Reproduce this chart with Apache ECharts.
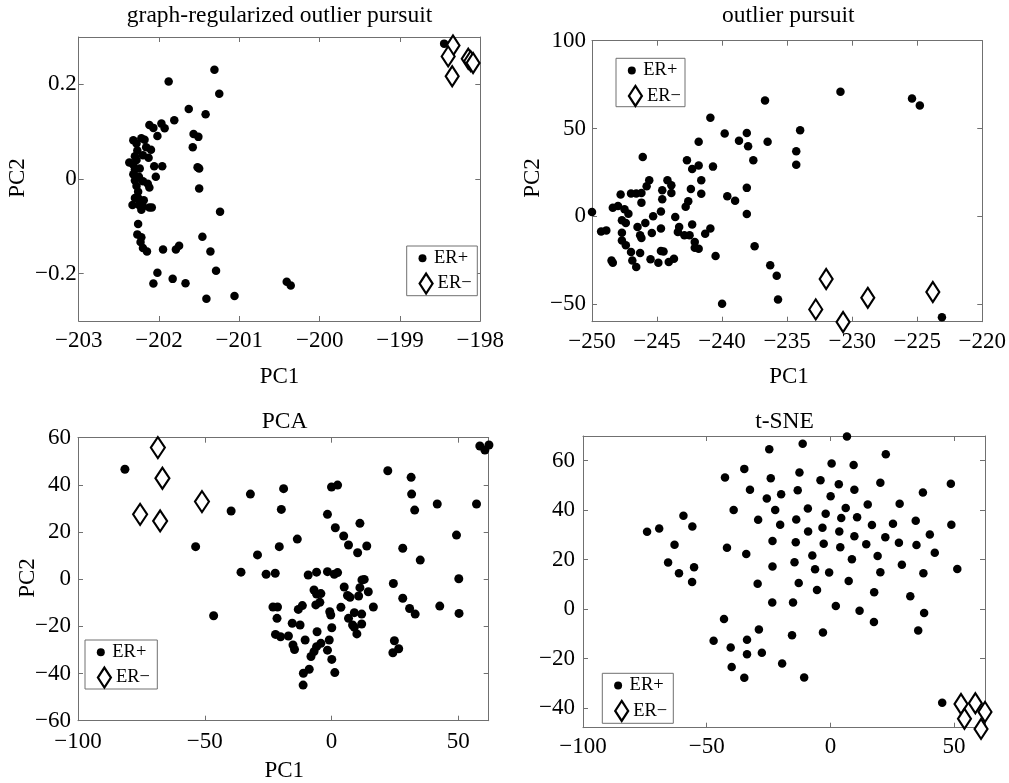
<!DOCTYPE html>
<html>
<head>
<meta charset="utf-8">
<title>ER+ / ER− embeddings</title>
<script src="https://cdn.jsdelivr.net/npm/echarts@6/dist/echarts.min.js"></script>
<style>
  html, body { margin: 0; padding: 0; background: #fff; }
  #chart { width: 1009px; height: 783px; }
</style>
</head>
<body>
<div id="chart"></div>
<script>
// ---------- data: [PC1, PC2] pairs per panel ----------
const titles = ['graph-regularized outlier pursuit', 'outlier pursuit', 'PCA', 't-SNE'];

const gopErPos = [
  [-201.31,0.231],[-201.88,0.206],[-201.25,0.180],[-201.63,0.148],[-201.42,0.137],[-201.81,0.124],
  [-202.12,0.114],[-202.07,0.108],[-201.97,0.117],[-201.93,0.107],[-202.02,0.091],[-201.57,0.095],
  [-201.51,0.089],[-201.58,0.067],[-201.52,0.025],[-201.50,0.022],[-201.50,-0.020],[-201.24,-0.069],
  [-201.46,-0.122],[-201.36,-0.153],[-201.29,-0.194],[-201.41,-0.253],[-201.06,-0.247],[-200.41,-0.217],
  [-200.36,-0.225],[-201.83,-0.211],[-201.67,-0.220],[-202.07,-0.221],[-202.02,-0.198],[-201.95,-0.149],
  [-201.79,-0.149],[-201.75,-0.141],[-202.26,-0.095],[-202.27,-0.117],[-202.22,-0.123],[-202.23,-0.133],
  [-202.20,-0.146],[-202.15,-0.153],[-202.06,0.027],[-201.96,0.027],[-202.04,0.005],[-202.12,-0.018],
  [-202.32,0.082],[-202.28,0.075],[-202.22,0.086],[-202.18,0.083],[-202.16,0.067],[-202.13,0.045],
  [-202.27,0.060],[-202.30,0.048],[-202.37,0.035],[-202.32,0.030],[-202.30,0.020],[-202.32,0.010],
  [-202.30,-0.003],[-202.28,-0.015],[-202.26,-0.027],[-202.20,-0.005],[-202.14,-0.010],[-202.30,-0.040],
  [-202.33,-0.055],[-202.25,-0.055],[-202.20,-0.058],[-202.12,-0.060],[-202.09,-0.060],[-202.22,-0.065],
  [-202.28,0.040],[-202.25,0.005],[-202.20,0.050],[-202.10,0.062],[-202.24,0.022],[-202.26,-0.040],
  [-202.19,-0.045],[-198.45,0.286]
];
const gopErNeg = [
  [-198.34,0.282],[-198.40,0.259],[-198.35,0.217],[-198.15,0.254],[-198.12,0.249],[-198.09,0.245]
];

const opErPos = [
  [-250.0,2.5],[-230.9,70.9],[-225.4,67.1],[-224.8,63.1],[-236.7,65.9],[-240.9,56.1],[-239.8,47.1],
  [-238.7,43.1],[-238.1,47.5],[-238.0,39.9],[-236.5,42.4],[-234.0,49.0],[-234.3,37.1],[-234.3,29.3],
  [-237.6,31.9],[-241.8,42.4],[-242.7,31.9],[-241.8,28.9],[-242.3,27.0],[-240.7,28.3],[-246.1,33.8],
  [-245.6,20.5],[-245.8,17.1],[-244.2,20.5],[-243.9,17.7],[-243.9,13.3],[-244.6,14.8],[-244.6,9.7],
  [-242.4,15.6],[-241.6,20.5],[-241.6,12.9],[-242.6,8.6],[-242.8,5.5],[-239.6,11.4],[-239.0,8.9],
  [-238.1,16.2],[-238.1,1.3],[-237.5,-17.1],[-236.3,-27.9],[-235.8,-33.8],[-235.7,-47.3],[-240.0,-49.8],
  [-223.1,-57.4],[-240.5,-22.6],[-247.8,12.4],[-247.0,13.0],[-246.6,13.0],[-246.2,7.8],[-246.2,13.3],
  [-248.4,4.9],[-248.0,5.9],[-247.5,4.0],[-247.2,1.5],[-247.7,-2.3],[-247.4,-3.8],[-245.9,-3.8],
  [-245.3,0.0],[-244.7,2.7],[-243.6,-0.4],[-249.3,-8.6],[-248.9,-8.0],[-247.7,-9.3],[-247.7,-13.7],
  [-247.4,-16.5],[-246.5,-6.1],[-246.3,-10.8],[-246.2,-12.4],[-246.3,-20.9],[-247.0,-20.3],[-246.9,-25.1],
  [-246.6,-28.9],[-248.5,-25.1],[-248.4,-26.4],[-245.4,-9.5],[-244.7,-7.0],[-245.5,-24.5],[-244.9,-26.4],
  [-244.7,-19.8],[-244.5,-20.0],[-244.1,-26.0],[-243.7,-24.1],[-243.3,-6.1],[-243.4,-8.9],[-242.9,-10.8],
  [-242.5,-10.8],[-242.3,-4.6],[-242.1,-14.6],[-242.1,-17.9],[-241.8,-18.4],[-241.3,-9.9],[-240.9,-7.0]
];
const opErNeg = [
  [-232.0,-35.7],[-232.8,-53.0],[-230.7,-60.2],[-228.8,-46.4],[-223.8,-43.1]
];

const pcaErPos = [
  [-81.5,46.6],[-53.6,13.8],[-46.5,-15.5],[-39.6,28.9],[-35.7,3.0],[-32.0,36.1],[-29.2,10.3],[-25.8,2.1],
  [-22.2,2.5],[-18.9,38.4],[-19.8,29.6],[-20.6,13.8],[-23.1,-11.8],[-21.3,-11.8],[-21.5,-16.6],[-13.5,17.0],
  [-22.1,-23.4],[-20.1,-24.4],[-17.0,-24.1],[-15.5,-18.7],[-15.2,-27.9],[-14.6,-29.8],[-13.1,-12.8],
  [-11.5,-11.2],[-12.4,-19.4],[-10.4,-25.8],[-11.2,-44.9],[-11.1,-39.9],[-8.8,-38.2],[-8.1,-32.8],
  [-9.2,1.8],[-5.9,3.0],[-6.9,-4.6],[-5.9,-6.3],[-4.2,-6.1],[-6.2,-10.9],[-4.6,-9.8],[-5.7,-22.3],
  [-6.9,-30.7],[-5.9,-28.6],[-4.2,-27.2],[-1.6,27.5],[-1.6,3.2],[-0.9,-25.8],[-1.6,-30.1],[0.1,-34.0],
  [1.3,-39.6],[0.1,-20.6],[-0.7,-13.8],[-0.3,-15.2],[0.0,39.1],[2.4,39.9],[1.5,21.8],[1.1,2.1],[2.4,2.8],
  [3.7,-11.9],[4.8,18.3],[5.0,-3.3],[6.3,-6.9],[7.3,-7.7],[6.7,14.5],[6.7,-16.6],[8.3,-19.4],[9.0,-20.4],
  [10.0,-23.2],[10.3,11.2],[11.2,23.7],[12.0,-0.3],[12.9,-0.1],[10.7,-7.1],[11.2,-3.6],[9.0,-14.2],
  [11.9,-14.8],[11.9,-19.0],[13.9,14.1],[14.5,-5.3],[16.5,-11.8],[22.2,46.0],[24.4,-1.8],[24.8,-26.1],
  [24.2,-31.2],[26.5,-29.5],[28.1,13.1],[28.1,-8.1],[30.8,-12.4],[33.0,-14.8],[31.4,43.2],[31.6,36.1],
  [32.8,29.3],[35.0,8.1],[41.7,31.9],[42.7,-11.4],[49.3,18.7],[50.2,0.2],[50.3,-14.5],[57.2,31.9],
  [58.5,56.5],[60.5,54.8],[62.1,56.9]
];
const pcaErNeg = [
  [-68.5,55.8],[-66.7,42.8],[-75.5,27.5],[-67.6,24.7],[-51.1,32.9]
];

const tsneErPos = [
  [-74.1,31.3],[-69.2,32.6],[-63.0,26.0],[-59.4,37.7],[-55.8,33.4],[-65.6,18.8],[-61.2,14.5],[-55.1,16.9],
  [-55.9,10.9],[-42.6,53.2],[-39.1,40.1],[-41.8,24.8],[-34.8,56.7],[-32.5,48.3],[-34.0,22.3],[-24.7,64.6],
  [-24.1,52.9],[-25.7,44.7],[-22.3,40.1],[-29.2,36.1],[-19.9,46.4],[-20.3,34.1],[-23.4,27.5],[-23.4,17.2],
  [-29.4,10.2],[-23.5,2.6],[-11.2,66.9],[-12.5,55.2],[-13.2,48.1],[-13.8,36.2],[-14.0,27.0],[-14.5,18.9],
  [-12.8,10.5],[-15.1,2.6],[-15.5,-10.6],[-9.1,40.7],[-9.0,31.4],[-7.3,21.7],[-6.2,16.1],[-5.4,7.7],
  [-3.0,-9.5],[-4.0,52.1],[-3.2,32.9],[-2.7,26.4],[-1.9,38.5],[-0.5,14.8],[0.1,45.6],[0.5,58.9],
  [3.4,50.5],[3.6,31.4],[4.4,36.8],[4.0,25.0],[2.2,1.2],[6.7,69.8],[6.2,40.9],[9.4,58.3],[9.7,48.3],
  [9.7,29.4],[10.8,37.1],[8.7,20.1],[7.4,11.3],[11.8,-0.7],[15.1,42.3],[14.5,26.2],[16.8,34.0],
  [19.1,21.5],[20.2,14.9],[20.2,51.1],[22.4,62.6],[22.2,29.0],[17.7,6.8],[17.6,-5.2],[25.3,34.5],
  [28.0,42.6],[27.7,26.8],[28.9,17.9],[32.3,5.2],[34.5,35.7],[34.8,25.9],[37.4,47.1],[40.2,30.2],
  [42.2,22.8],[37.6,14.5],[37.9,-1.6],[35.5,-8.7],[48.7,50.7],[48.9,34.1],[51.3,16.2],[-43.0,-4.0],
  [-47.2,-12.8],[-40.3,-15.6],[-39.9,-23.4],[-34.8,-27.8],[-33.7,-12.4],[-33.7,-18.3],[-28.9,-8.3],
  [-27.7,-17.7],[-19.5,-22.0],[-10.6,-27.7],[45.2,-37.9]
];
const tsneErNeg = [
  [52.8,-38.4],[54.2,-44.4],[58.6,-38.1],[62.5,-41.6],[60.9,-48.5]
];

// tick values per axis
const gopXTicks = [-203, -202, -201, -200, -199, -198];
const gopYTicks = [-0.2, 0, 0.2];
const opXTicks = [-250, -245, -240, -235, -230, -225, -220];
const opYTicks = [-50, 0, 50, 100];
const pcaXTicks = [-100, -50, 0, 50];
const pcaYTicks = [-60, -40, -20, 0, 20, 40, 60];
const tsneXTicks = [-100, -50, 0, 50];
const tsneYTicks = [-40, -20, 0, 20, 40, 60];

// ---------- layout / styling ----------
const FONT = "'Liberation Serif', 'DejaVu Serif', serif";
const AXIS_COLOR = '#707070';
const POS = 'ER+';
const NEG = 'ER\u2212';

const panels = [
  { grid: { left: 78.7, top: 37, width: 401.6, height: 284 },
    x: [-203, -198], y: [-0.3, 0.3], xTicks: gopXTicks, yTicks: gopYTicks,
    xMargin: 8, yMargin: 2, pos: gopErPos, neg: gopErNeg, dot: 8.5, dia: [13, 20],
    title: [279.5, 16], xName: [279.5, 377], yName: [18.3, 178],
    legend: { x: 406.7, y: 246, w: 70.6, h: 49.7 } },
  { grid: { left: 592, top: 40.7, width: 394.3, height: 281 },
    x: [-250, -220], y: [-60, 100], xTicks: opXTicks, yTicks: opYTicks,
    xMargin: 9, yMargin: 6, pos: opErPos, neg: opErNeg, dot: 8.5, dia: [13, 20],
    title: [788.3, 16], xName: [789, 377], yName: [533, 178],
    legend: { x: 616, y: 58.3, w: 69, h: 48.4 } },
  { grid: { left: 78, top: 437.7, width: 410.7, height: 283 },
    x: [-100, 62], y: [-60, 60], xTicks: pcaXTicks, yTicks: pcaYTicks,
    xMargin: 10, yMargin: 7, pos: pcaErPos, neg: pcaErNeg, dot: 9, dia: [14, 21],
    title: [284.5, 422], xName: [284.2, 771], yName: [28.3, 578],
    legend: { x: 85, y: 640, w: 72.3, h: 49 } },
  { grid: { left: 583, top: 436, width: 402, height: 291.7 },
    x: [-100, 62.5], y: [-48, 70], xTicks: tsneXTicks, yTicks: tsneYTicks,
    xMargin: 8, yMargin: 8, pos: tsneErPos, neg: tsneErNeg, dot: 8.5, dia: [13, 20],
    title: [784.5, 422], xName: null, yName: null,
    legend: { x: 602.3, y: 673.3, w: 71, h: 50 } }
];

function fmt(v) {
  const a = Math.abs(v);
  const s = String(Math.round(a * 1000) / 1000);
  return (v < 0 ? '\u2212' : '') + s;
}

function valueAxis(range, ticks, position, gridIndex, withLabels, margin) {
  return {
    type: 'value', gridIndex, position,
    min: range[0], max: range[1],
    axisLine: { show: true, onZero: false, lineStyle: { color: AXIS_COLOR, width: 1 } },
    axisTick: { show: true, inside: true, length: 5, customValues: ticks,
                lineStyle: { color: AXIS_COLOR, width: 1 } },
    axisLabel: { show: withLabels, customValues: ticks, margin,
                 fontFamily: FONT, fontSize: 23, color: '#000', formatter: fmt },
    splitLine: { show: false }
  };
}

const grid = [], xAxis = [], yAxis = [], series = [], legend = [], graphic = [];

panels.forEach((p, i) => {
  grid.push(Object.assign({ containLabel: false }, p.grid));
  // bottom + top x axes, left + right y axes (box with inward ticks)
  xAxis.push(valueAxis(p.x, p.xTicks, 'bottom', i, true, p.xMargin));
  xAxis.push(valueAxis(p.x, p.xTicks, 'top', i, false, 0));
  yAxis.push(valueAxis(p.y, p.yTicks, 'left', i, true, p.yMargin));
  yAxis.push(valueAxis(p.y, p.yTicks, 'right', i, false, 0));

  series.push({
    type: 'scatter', name: POS, xAxisIndex: 2 * i, yAxisIndex: 2 * i,
    data: p.pos, symbol: 'circle', symbolSize: p.dot, clip: false,
    itemStyle: { color: '#000', opacity: 1 }, z: 2, silent: true
  });
  series.push({
    type: 'scatter', name: NEG, xAxisIndex: 2 * i, yAxisIndex: 2 * i,
    data: p.neg, symbol: 'diamond', symbolSize: p.dia, clip: false,
    itemStyle: { color: '#fff', borderColor: '#000', borderWidth: 2.2, opacity: 1 }, z: 3, silent: true
  });

  // legend: framed box with a dot row and a diamond row
  const L = p.legend;
  const cx = L.x + 18.3;
  const legText = { fontFamily: FONT, fontSize: 18.5, color: '#000', lineHeight: 20 };
  legend.push({
    data: [{ name: POS, icon: 'circle', itemStyle: { color: '#000', borderWidth: 0, opacity: 1 } }],
    orient: 'vertical', left: cx - 6.5, top: L.y + 12.3 - 10, padding: 0,
    itemWidth: 13, itemHeight: 8, selectedMode: false, textStyle: legText, z: 6
  });
  legend.push({
    data: [{ name: NEG, icon: 'diamond',
             itemStyle: { color: '#fff', borderColor: '#000', borderWidth: 2.2, opacity: 1 } }],
    orient: 'vertical', left: cx - 6.5, top: L.y + 36.5 - 10, padding: 0,
    itemWidth: 13, itemHeight: 20, selectedMode: false, textStyle: legText, z: 6
  });
  graphic.push({
    type: 'rect', z: 5, silent: true,
    shape: { x: L.x, y: L.y, width: L.w, height: L.h },
    style: { fill: '#fff', stroke: AXIS_COLOR, lineWidth: 1 }
  });

  // panel title and axis names
  graphic.push({
    type: 'text', x: p.title[0], y: p.title[1], z: 10, silent: true,
    style: { text: titles[i], font: '23.5px ' + FONT, fill: '#000', align: 'center', verticalAlign: 'middle' }
  });
  if (p.xName) {
    graphic.push({
      type: 'text', x: p.xName[0], y: p.xName[1], z: 10, silent: true,
      style: { text: 'PC1', font: '23px ' + FONT, fill: '#000', align: 'center', verticalAlign: 'middle' }
    });
  }
  if (p.yName) {
    graphic.push({
      type: 'text', x: p.yName[0], y: p.yName[1], rotation: Math.PI / 2, z: 10, silent: true,
      style: { text: 'PC2', font: '23px ' + FONT, fill: '#000', align: 'center', verticalAlign: 'middle' }
    });
  }
});

const chart = echarts.init(document.getElementById('chart'), null, { renderer: 'canvas' });
chart.setOption({
  animation: false,
  backgroundColor: '#fff',
  grid, xAxis, yAxis, series, legend, graphic
});
</script>
</body>
</html>
